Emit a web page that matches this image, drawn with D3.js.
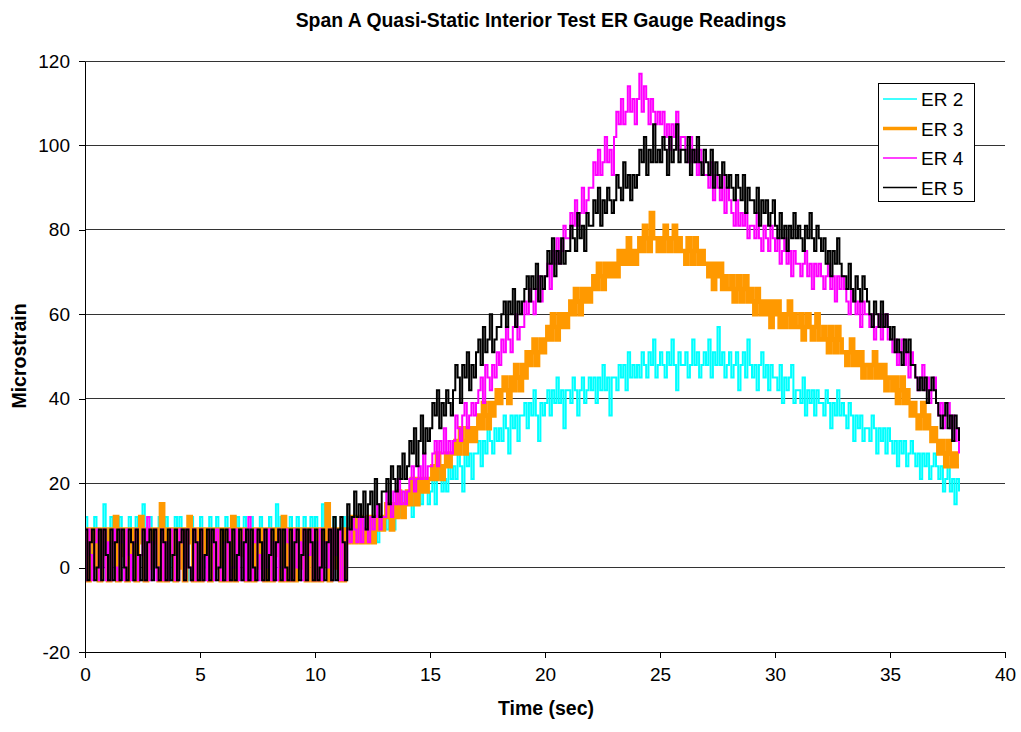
<!DOCTYPE html>
<html>
<head>
<meta charset="utf-8">
<script src="https://cdn.jsdelivr.net/npm/d3@7"></script>
<style>
  body { margin: 0; background: #fff; }
  svg { display: block; font-family: "Liberation Sans", Arial, sans-serif; }
</style>
</head>
<body>
<svg id="chart" width="1021" height="732"></svg>
<script>
// gauge readings, one value every 0.1 s (one row = one second)
var sampleStep = 0.1;

var er2 = [
  12,6,9,3,12,9,-3,6,15,9,
  3,12,6,9,-3,12,9,3,6,12,
  9,-3,12,6,9,15,3,9,12,6,
  0,9,12,3,6,12,9,-3,9,12,
  6,12,3,9,-3,6,12,9,3,9,
  12,9,0,6,12,-3,9,12,6,3,
  9,12,6,-3,9,3,12,9,6,12,
  3,9,12,6,0,9,12,3,9,-3,
  12,6,9,15,3,12,9,-3,6,12,
  9,3,12,6,9,12,0,9,12,6,
  12,9,3,15,6,12,9,-3,12,9,
  9,6,12,9,6,12,9,12,6,12,
  6,9,12,6,9,12,9,6,12,9,
  12,9,15,12,9,15,12,18,12,15,
  15,18,12,18,15,21,15,18,21,15,
  18,21,15,21,24,18,21,18,24,21,
  24,21,27,24,18,27,24,27,21,27,
  27,30,24,30,27,33,30,27,33,30,
  33,30,36,33,27,36,33,36,30,36,
  36,39,33,39,36,42,36,30,39,36,
  39,42,36,42,39,45,39,42,33,42,
  42,39,45,42,36,42,45,39,42,45,
  42,45,39,45,42,48,42,45,36,45,
  45,42,48,45,48,42,51,45,48,45,
  48,45,51,48,45,51,48,54,45,48,
  51,48,45,51,48,54,48,42,51,48,
  48,51,45,48,54,48,51,45,48,51,
  48,54,45,51,48,57,48,51,45,48,
  51,45,48,51,42,48,51,45,54,48,
  45,48,42,48,51,45,48,42,48,45,
  45,42,48,39,45,42,45,48,39,42,
  42,39,45,36,42,39,42,36,42,39,
  39,36,42,39,33,39,36,42,36,39,
  36,33,39,36,30,36,33,36,30,33,
  33,30,36,33,27,33,30,33,27,33,
  30,27,30,24,30,27,30,24,27,30,
  27,24,27,21,27,24,27,21,24,27,
  24,21,24,18,21,24,18,21,15,21,
  18
];

var er3 = [
  9,-3,6,9,0,9,-3,3,9,6,
  -3,9,6,12,-3,9,3,9,-3,6,
  9,3,-3,9,12,6,-3,9,0,9,
  6,9,-3,15,9,-3,6,9,3,-3,
  9,0,9,-3,6,12,9,-3,9,6,
  -3,9,3,9,-3,6,9,0,9,-3,
  9,6,-3,9,12,-3,9,3,6,9,
  -3,9,6,-3,9,0,9,6,-3,9,
  6,-3,9,3,9,-3,12,9,-3,6,
  9,-3,6,9,0,9,-3,9,6,-3,
  9,3,-3,9,6,15,-3,9,0,9,
  9,-3,-3,9,6,9,12,6,9,12,
  6,9,6,12,9,6,12,9,12,9,
  12,15,12,9,15,12,18,15,12,15,
  18,15,21,18,15,21,18,21,18,21,
  21,24,21,27,24,21,24,27,24,27,
  27,30,27,33,30,27,33,30,33,30,
  33,36,33,39,36,33,39,36,39,42,
  39,42,45,42,39,45,42,48,45,42,
  48,45,51,48,51,54,48,51,54,51,
  54,57,54,60,57,54,60,57,60,57,
  60,63,60,66,63,60,66,63,66,63,
  66,69,66,72,69,66,72,69,72,69,
  72,69,75,72,75,72,78,72,75,72,
  75,78,75,81,78,75,84,78,78,75,
  78,75,81,78,75,78,81,75,78,75,
  75,72,78,75,72,78,75,72,75,72,
  72,69,72,66,72,69,72,66,69,66,
  66,69,63,66,69,63,66,69,63,66,
  63,60,66,63,60,63,60,63,57,63,
  60,63,57,60,57,60,63,57,60,57,
  57,60,54,57,60,57,54,57,60,54,
  54,57,54,51,57,54,51,57,54,51,
  51,48,51,54,48,51,48,51,45,48,
  48,45,48,51,45,48,45,48,42,45,
  45,42,45,39,42,45,39,42,39,36,
  39,36,33,36,39,33,36,33,30,33,
  30,27,30,27,24,30,27,24,27,24,
  24
];

var er4 = [
  -3,9,3,-3,6,9,-3,0,9,-3,
  6,-3,9,0,-3,9,6,-3,9,3,
  -3,6,9,-3,3,9,-3,12,-3,6,
  9,-3,0,9,-3,6,-3,9,3,-3,
  -3,9,6,-3,9,0,-3,9,-3,6,
  9,-3,3,-3,9,6,-3,9,0,-3,
  6,-3,9,-3,0,9,-3,6,-3,9,
  -3,12,-3,6,9,-3,3,-3,9,0,
  9,-3,6,-3,9,0,-3,9,6,-3,
  -3,9,0,6,-3,9,-3,3,9,-3,
  6,-3,9,-3,6,0,9,-3,9,3,
  -3,9,-3,0,9,6,12,9,6,12,
  6,12,9,6,12,9,12,15,9,12,
  12,18,15,12,18,15,21,15,18,15,
  18,21,24,18,21,24,21,27,21,24,
  24,27,30,24,30,27,33,27,30,27,
  30,36,33,30,36,39,33,36,39,36,
  39,42,45,39,48,45,42,48,45,51,
  48,54,51,57,54,51,57,60,54,57,
  57,63,60,66,63,60,66,69,63,66,
  69,72,66,75,72,78,72,75,81,78,
  78,84,81,87,81,84,90,84,87,90,
  90,96,93,99,93,96,102,96,99,93,
  102,108,105,111,105,108,114,108,111,105,
  111,117,108,114,111,105,111,108,105,108,
  105,108,102,105,99,105,102,108,99,102,
  102,99,96,102,96,99,93,99,96,93,
  93,90,96,87,93,90,87,93,84,90,
  87,84,81,87,81,84,81,84,78,81,
  81,78,84,78,75,81,78,75,81,78,
  75,78,72,75,78,72,75,69,75,72,
  72,69,72,75,69,72,66,72,69,72,
  69,66,69,72,66,69,63,69,66,69,
  66,63,60,66,63,60,63,57,63,60,
  60,57,60,54,57,60,54,57,60,54,
  54,51,54,48,51,54,48,51,45,51,
  48,45,42,45,48,42,45,39,42,45,
  39,36,39,33,36,39,33,36,30,33,
  27
];

var er5 = [
  9,-3,6,9,-3,0,9,-3,9,3,
  -3,9,-3,6,9,-3,9,0,-3,9,
  6,-3,9,3,-3,9,-3,6,9,-3,
  9,0,-3,9,6,-3,9,-3,3,9,
  -3,6,9,-3,9,0,-3,9,6,-3,
  9,-3,3,9,-3,9,6,-3,0,9,
  -3,9,6,-3,9,-3,3,9,-3,6,
  9,-3,9,0,-3,9,6,-3,9,-3,
  3,9,-3,6,9,-3,9,0,-3,9,
  -3,6,9,-3,3,9,-3,9,6,-3,
  9,-3,0,9,-3,6,9,-3,12,-3,
  9,12,6,-3,15,9,12,18,12,15,
  12,18,9,15,18,12,21,15,12,18,
  18,21,15,24,21,18,24,21,27,21,
  24,30,27,33,24,30,36,27,33,30,
  33,39,36,42,33,39,36,42,39,36,
  42,48,45,39,48,45,51,42,48,45,
  51,54,48,57,51,54,60,51,54,57,
  57,60,63,57,63,60,66,57,63,60,
  63,66,69,63,69,66,72,63,69,66,
  69,75,72,78,69,75,72,78,72,75,
  75,81,78,75,84,78,81,75,84,81,
  81,87,84,90,81,87,84,90,87,84,
  87,93,90,87,96,90,93,87,93,90,
  93,99,96,102,93,99,96,105,96,99,
  96,102,99,93,102,96,99,105,96,99,
  99,96,102,93,99,96,102,96,93,99,
  96,93,99,90,96,93,90,96,93,90,
  93,90,87,93,90,87,93,84,90,87,
  87,84,90,81,87,84,87,81,84,87,
  81,78,84,78,81,75,81,78,84,78,
  81,78,75,81,78,84,78,75,81,78,
  75,78,72,75,69,75,72,78,72,69,
  69,66,72,66,63,69,66,63,69,66,
  63,60,57,63,60,57,63,57,60,57,
  54,57,51,54,51,48,54,51,54,48,
  48,45,42,45,42,45,39,42,45,42,
  39,36,33,36,39,33,36,30,36,33,
  30
];

var seriesNames = ["ER 2", "ER 3", "ER 4", "ER 5"];
var seriesColors = ["#00ffff", "#ff9900", "#ff00ff", "#000000"];
var seriesWidths = [2, 4.5, 2, 2];
var legendWidths = [1.4, 3.6, 1.4, 1.4];
var xTicks = [0, 5, 10, 15, 20, 25, 30, 35, 40];
var yTicks = [-20, 0, 20, 40, 60, 80, 100, 120];

var svg = d3.select("#chart");
var x = d3.scaleLinear().domain([0, 40]).range([85, 1005]);
var y = d3.scaleLinear().domain([-20, 120]).range([652, 61]);

// gridlines
svg.append("g")
    .selectAll("line")
    .data(yTicks.filter(function (d) { return d > -20; }))
    .enter().append("line")
    .attr("x1", x(0)).attr("x2", x(40))
    .attr("y1", function (d) { return y(d); })
    .attr("y2", function (d) { return y(d); })
    .attr("stroke", "#333").attr("stroke-width", 1)
    .attr("shape-rendering", "crispEdges");

// series (sampled data drawn as steps, like the logger output)
var allSeries = [er2, er3, er4, er5];
var line = d3.line()
    .curve(d3.curveStepAfter)
    .x(function (d, i) { return x(i * sampleStep); })
    .y(function (d) { return y(d); });

allSeries.forEach(function (s, k) {
    svg.append("path")
        .datum(s)
        .attr("d", line)
        .attr("fill", "none")
        .attr("stroke", seriesColors[k])
        .attr("stroke-width", seriesWidths[k]);
});

// axes
var plainFormat = function (d) { return String(d); };
var xAxis = svg.append("g")
    .attr("transform", "translate(0," + y(-20) + ")")
    .call(d3.axisBottom(x).tickValues(xTicks).tickFormat(plainFormat)
        .tickSize(6).tickPadding(10).tickSizeOuter(0));
var yAxis = svg.append("g")
    .attr("transform", "translate(" + x(0) + ",0)")
    .call(d3.axisLeft(y).tickValues(yTicks).tickFormat(plainFormat)
        .tickSize(6).tickPadding(9).tickSizeOuter(0));

[xAxis, yAxis].forEach(function (a) {
    a.select(".domain").attr("stroke", "#000").attr("shape-rendering", "crispEdges");
    a.selectAll(".tick line").attr("stroke", "#000").attr("shape-rendering", "crispEdges");
    a.selectAll(".tick text")
        .attr("fill", "#000")
        .style("font-family", "'Liberation Sans', Arial, sans-serif")
        .style("font-size", "19px");
});

// titles
svg.append("text")
    .attr("x", 541).attr("y", 27)
    .attr("text-anchor", "middle")
    .style("font-size", "19.4px").style("font-weight", "bold")
    .text("Span A Quasi-Static Interior Test ER Gauge Readings");

svg.append("text")
    .attr("x", 546).attr("y", 715)
    .attr("text-anchor", "middle")
    .style("font-size", "19.5px").style("font-weight", "bold")
    .text("Time (sec)");

svg.append("text")
    .attr("transform", "translate(26,356) rotate(-90)")
    .attr("text-anchor", "middle")
    .style("font-size", "19.5px").style("font-weight", "bold")
    .text("Microstrain");

// legend
var legend = svg.append("g");
legend.append("rect")
    .attr("x", 878.5).attr("y", 83.5)
    .attr("width", 96).attr("height", 118)
    .attr("fill", "#fff").attr("stroke", "#000").attr("stroke-width", 1);

seriesNames.forEach(function (name, k) {
    var ly = 99 + k * 29.5;
    legend.append("line")
        .attr("x1", 883).attr("x2", 917)
        .attr("y1", ly).attr("y2", ly)
        .attr("stroke", seriesColors[k])
        .attr("stroke-width", legendWidths[k]);
    legend.append("text")
        .attr("x", 921).attr("y", ly + 7)
        .style("font-size", "19px")
        .text(name);
});
</script>
</body>
</html>
